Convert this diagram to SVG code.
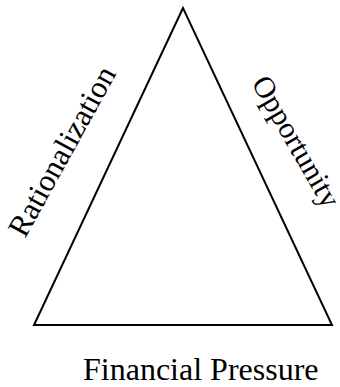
<svg xmlns="http://www.w3.org/2000/svg" width="340" height="387" viewBox="0 0 340 387">
<style>
.lbl{font-family:"Liberation Serif","Times New Roman",serif;fill:#000}
</style>
<rect width="340" height="387" fill="#fff"/>
<g id="connectors">
<polygon points="183,8 34,325 332,325" fill="none" stroke="#000" stroke-width="2" stroke-linejoin="miter"/>
</g>
<g id="rationalization"><text class="lbl" font-size="31" transform="translate(25,239) rotate(-61)">Rationalization</text></g>
<g id="opportunity"><text class="lbl" font-size="30" transform="translate(251,83) rotate(60)">Opportunity</text></g>
<g id="financial-pressure"><text class="lbl" font-size="32" x="83" y="380">Financial Pressure</text></g>
</svg>
